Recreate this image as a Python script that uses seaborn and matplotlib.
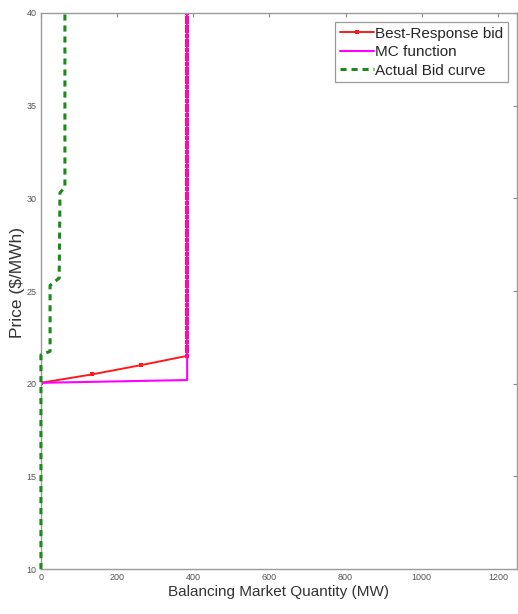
import matplotlib
matplotlib.use("Agg")
import matplotlib.pyplot as plt
import seaborn as sns
import pandas as pd

# Best-response bid: sloped part, then the vertical block at full capacity
br_qty = [0, 133, 262, 383]
br_price = [20.05, 20.5, 21.0, 21.5]
br_cap_qty = 384
br_cap_price = [
    21.75, 22.0, 22.25, 22.5, 22.75, 23.0, 23.25, 23.5, 23.75, 24.0,
    24.25, 24.5, 24.75, 25.0, 25.25, 25.5, 25.75, 26.0, 26.25, 26.5,
    26.75, 27.0, 27.25, 27.5, 27.75, 28.0, 28.25, 28.5, 28.75, 29.0,
    29.25, 29.5, 29.75, 30.0, 30.25, 30.5, 30.75, 31.0, 31.25, 31.5,
    31.75, 32.0, 32.25, 32.5, 32.75, 33.0, 33.25, 33.5, 33.75, 34.0,
    34.25, 34.5, 34.75, 35.0, 35.25, 35.5, 35.75, 36.0, 36.25, 36.5,
    36.75, 37.0, 37.25, 37.5, 37.75, 38.0, 38.25, 38.5, 38.75, 39.0,
    39.25, 39.5, 39.75, 40.0,
]

# Marginal cost function
mc_qty = [0, 384, 384]
mc_price = [20.05, 20.2, 40.0]

# Actual bid curve
bid_qty = [0, 0, 24, 24, 48, 50, 63, 63]
bid_price = [10.0, 21.55, 21.75, 25.3, 25.7, 30.3, 30.6, 40.0]

x_ticks = [0, 200, 400, 600, 800, 1000, 1200]
y_ticks = [10, 15, 20, 25, 30, 35, 40]

br = pd.DataFrame({
    "qty": br_qty + [br_cap_qty] * len(br_cap_price),
    "price": br_price + br_cap_price,
})
mc = pd.DataFrame({"qty": mc_qty, "price": mc_price})
bid = pd.DataFrame({"qty": bid_qty, "price": bid_price})

sns.set_theme(style="white")
plt.rcParams["font.family"] = ["Liberation Sans", "DejaVu Sans"]

fig = plt.figure(figsize=(5.18, 6.14), dpi=100)
ax = fig.add_axes([0.079, 0.073, 0.919, 0.906])

sns.lineplot(data=br, x="qty", y="price", sort=False, estimator=None,
             color="#ff1a1a", lw=1.4, marker="s", markersize=3.4,
             markeredgewidth=0, label="Best-Response bid", ax=ax)
sns.lineplot(data=mc, x="qty", y="price", sort=False, estimator=None,
             color="#ff00ff", lw=1.5, label="MC function", ax=ax)
sns.lineplot(data=bid, x="qty", y="price", sort=False, estimator=None,
             color="#1a8a1a", lw=2.2, label="Actual Bid curve", ax=ax)
green = ax.lines[-1]
green.set_dashes([2.0, 1.6])
green.set_clip_on(False)
green.set_zorder(5)

ax.set_xlim(0, 1250)
ax.set_ylim(10, 40)
ax.set_xticks(x_ticks)
ax.set_yticks(y_ticks)
ax.tick_params(direction="in", length=3, width=0.8, colors="#888888",
               labelcolor="#555555", labelsize=6.5, top=True, right=True,
               pad=3)
for s in ax.spines.values():
    s.set_color("#9a9a9a")
    s.set_linewidth(1.0)
    s.set_visible(True)

ax.set_xlabel("Balancing Market Quantity (MW)", fontsize=11, color="#333333",
              labelpad=2)
ax.set_ylabel("Price ($/MWh)", fontsize=12.5, color="#333333")
ax.yaxis.set_label_coords(-0.033, 0.515)

leg = ax.legend(loc="upper right", fontsize=11, frameon=True, fancybox=False,
                framealpha=1, edgecolor="#9a9a9a", handlelength=2.2,
                handletextpad=0.1, borderpad=0.3, labelspacing=0.3,
                borderaxespad=0.6)
leg.get_frame().set_linewidth(0.9)

fig.savefig("out.png", dpi=100)
